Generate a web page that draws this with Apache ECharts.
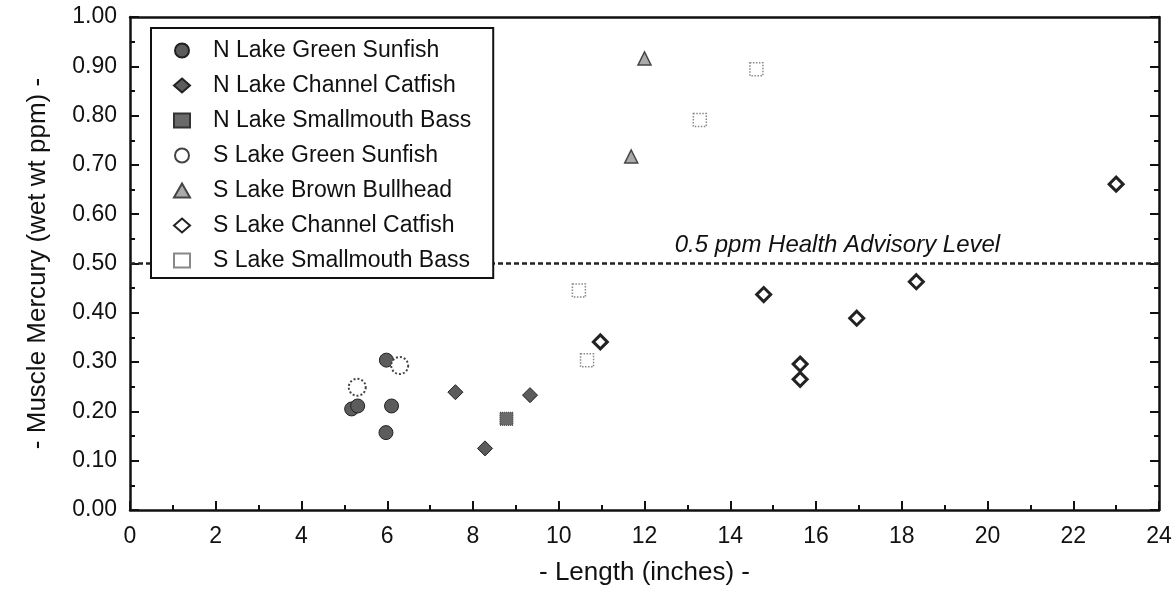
<!DOCTYPE html>
<html><head><meta charset="utf-8">
<script src="https://cdn.jsdelivr.net/npm/echarts@6/dist/echarts.min.js"></script>
<style>html,body{margin:0;padding:0;background:#fff}#c{width:1176px;height:604px}</style>
</head><body><div id="c"></div>
<script>
const seriesNames = ["N Lake Green Sunfish","N Lake Channel Catfish","N Lake Smallmouth Bass","S Lake Green Sunfish","S Lake Brown Bullhead","S Lake Channel Catfish","S Lake Smallmouth Bass"];
const nGreenSunfish = [[5.17,0.205],[5.31,0.211],[5.98,0.304],[6.10,0.211],[5.97,0.157]];
const nChannelCatfish = [[7.59,0.239],[8.28,0.125],[9.33,0.233]];
const nSmallmouthBass = [[8.78,0.185]];
const sGreenSunfish = [[5.30,0.249],[6.29,0.293]];
const sBrownBullhead = [[12.0,0.916],[11.69,0.717]];
const sChannelCatfish = [[10.97,0.341],[14.78,0.437],[18.34,0.463],[16.95,0.389],[15.63,0.296],[15.63,0.265],[23.0,0.661]];
const sSmallmouthBass = [[10.66,0.304],[10.47,0.445],[13.29,0.791],[14.61,0.894]];
const advisoryLevel = 0.5;
const advisoryLabel = "0.5 ppm Health Advisory Level";
const xTitle = "- Length (inches) -";
const yTitle = "- Muscle Mercury (wet wt ppm) -";

const FONT = "Liberation Sans";
const chart = echarts.init(document.getElementById('c'), null, {renderer:'canvas'});
const axisCommon = (ticks) => ({
  axisLine:{onZero:false,lineStyle:{color:'#111',width:2.5}},
  axisTick:{show:ticks,inside:true,length:9,lineStyle:{color:'#111',width:2}},
  minorTick:{show:ticks,splitNumber:2,length:5,lineStyle:{color:'#111',width:2}},
  splitLine:{show:false}
});
const styles = [
  {symbol:'circle',size:14,item:{color:'#5c5c5c',borderColor:'#222',borderWidth:1}},
  {symbol:'diamond',size:15,item:{color:'#5c5c5c',borderColor:'#222',borderWidth:1}},
  {symbol:'rect',size:13,item:{color:'#6a6a6a',borderColor:'#333',borderWidth:1,borderType:'dotted'}},
  {symbol:'circle',size:17,item:{color:'#fff',borderColor:'#444',borderWidth:2,borderType:'dotted'}},
  {symbol:'triangle',size:13,item:{color:'#aaa',borderColor:'#444',borderWidth:1.5}},
  {symbol:'diamond',size:14,item:{color:'#fff',borderColor:'#222',borderWidth:3}},
  {symbol:'rect',size:13,item:{color:'#fff',borderColor:'#888',borderWidth:1.5,borderType:'dotted'}}
];
const datasets = [nGreenSunfish,nChannelCatfish,nSmallmouthBass,sGreenSunfish,sBrownBullhead,sChannelCatfish,sSmallmouthBass];
const series = datasets.map((d,i)=>({
  name:seriesNames[i], type:'scatter', data:d, symbol:styles[i].symbol, symbolSize:styles[i].size,
  itemStyle:Object.assign({opacity:1},styles[i].item), z:3
}));
series[0].markLine = {
  silent:true, symbol:['none','none'], z:1,
  lineStyle:{color:'#222',width:2.5,type:[5,3]},
  label:{show:false},
  data:[[{coord:[0,advisoryLevel]},{coord:[24,advisoryLevel]}]]
};
series[0].markPoint = {
  silent:true, symbol:'circle', symbolSize:0,
  label:{show:true,position:'top',distance:6,formatter:advisoryLabel,fontFamily:FONT,fontStyle:'italic',fontSize:24,color:'#111'},
  data:[{coord:[16.5,advisoryLevel]}]
};
chart.setOption({
  animation:false,
  backgroundColor:'#fff',
  grid:{left:130,right:17,top:17,bottom:94},
  legend:{
    orient:'vertical', left:151, top:28,
    padding:[11,22,6,22],
    itemGap:12, itemWidth:16, itemHeight:14,
    backgroundColor:'#fff', borderColor:'#111', borderWidth:2,
    textStyle:{fontFamily:FONT,fontSize:23,color:'#111',lineHeight:22.5,padding:[0,0,0,18]},
    data:seriesNames
  },
  xAxis:[
    Object.assign({type:'value',min:0,max:24,interval:2,position:'bottom',
      name:xTitle,nameLocation:'middle',nameGap:50,
      nameTextStyle:{fontFamily:FONT,fontSize:26,color:'#111'},
      axisLabel:{fontFamily:FONT,fontSize:23,color:'#111',margin:15}},axisCommon(true)),
    Object.assign({type:'value',min:0,max:24,interval:2,position:'top',axisLabel:{show:false}},axisCommon(false))
  ],
  yAxis:[
    Object.assign({type:'value',min:0,max:1,interval:0.1,position:'left',
      name:yTitle,nameLocation:'middle',nameGap:79,
      nameTextStyle:{fontFamily:FONT,fontSize:26,color:'#111'},
      axisLabel:{fontFamily:FONT,fontSize:23,color:'#111',margin:13,formatter:v=>v.toFixed(2)}},axisCommon(true)),
    Object.assign({type:'value',min:0,max:1,interval:0.1,position:'right',axisLabel:{show:false}},axisCommon(true))
  ],
  series:series
});
</script></body></html>
